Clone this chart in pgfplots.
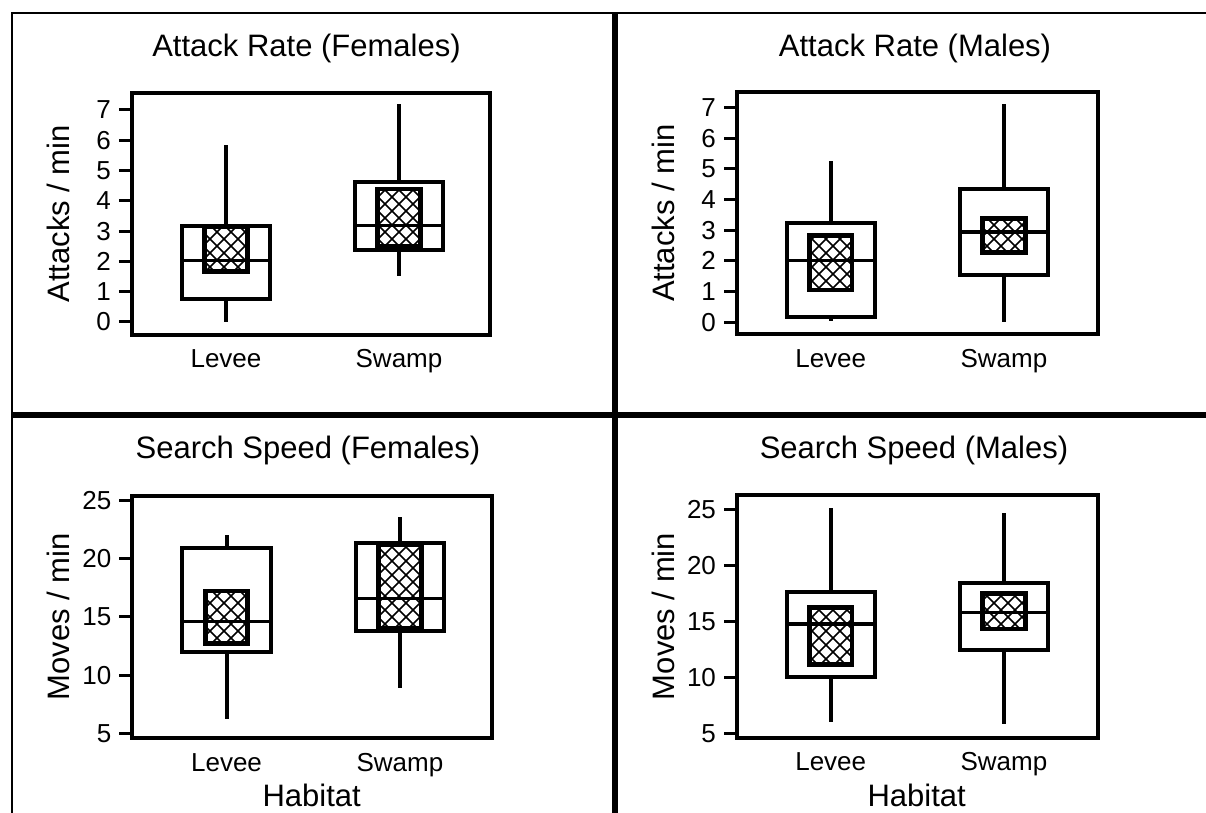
\documentclass[border=0pt]{standalone}
\usepackage{fontspec}
\setmainfont{Liberation Sans}
\usepackage{pgfplots}
\pgfplotsset{compat=1.18}
\usepgfplotslibrary{statistics}
\usetikzlibrary{patterns}

\pgfdeclarepatternformonly{xdiamond}{\pgfqpoint{-0.5pt}{-0.5pt}}{\pgfqpoint{7.5pt}{7.5pt}}{\pgfqpoint{7pt}{7pt}}{%
  \pgfsetlinewidth{0.8pt}%
  \pgfpathmoveto{\pgfqpoint{0pt}{0pt}}\pgfpathlineto{\pgfqpoint{7pt}{7pt}}%
  \pgfpathmoveto{\pgfqpoint{0pt}{7pt}}\pgfpathlineto{\pgfqpoint{7pt}{0pt}}%
  \pgfusepath{stroke}}

\pgfplotsset{
  panel/.style={
    scale only axis, anchor=south west,
    axis line style={line width=2pt},
    tick align=outside, major tick length=6.5pt, tick pos=left,
    ytick style={line width=1.5pt, black},
    xtick={1,2}, xticklabels={Levee,Swamp}, xtick style={draw=none},
    ticklabel style={font=\fontsize{13}{15}\selectfont},
    yticklabel style={xshift=-0.5pt},
    xticklabel style={anchor=base, yshift=-10pt},
    /pgf/number format/assume math mode=true,
    boxplot/draw direction=y,
    every axis y label/.style={at={([xshift=-37pt]axis description cs:0,0.5)}, rotate=90, anchor=center, font=\fontsize{15.5}{18}\selectfont},
  },
}

% pos, lower whisker, lower quartile, median, upper quartile, upper whisker, inner low, inner high
\newcommand{\panelbox}[8]{%
  \addplot[black, line width=2pt, boxplot prepared={draw position=#1, lower whisker=#2, lower quartile=#3, median=#4, upper quartile=#5, upper whisker=#6, box extend=0.51, whisker extend=0, every median/.style={line width=1.7pt}}] coordinates {};
  \addplot[black, line width=2.4pt, pattern=xdiamond, boxplot prepared={draw position=#1, lower whisker=#7, lower quartile=#7, median=#7, upper quartile=#8, upper whisker=#8, box extend=0.246, whisker extend=0}] coordinates {};
}

\begin{document}
\begin{tikzpicture}
\useasboundingbox (0pt,0pt) rectangle (603pt,406.5pt);

% frame and dividers
\draw[line width=1.2pt] (6pt,-10pt) -- (6pt,400pt) -- (620pt,400pt);
\draw[line width=3pt] (307.5pt,400pt) -- (307.5pt,-10pt);
\draw[line width=3pt] (6pt,199pt) -- (620pt,199pt);

% Attack Rate (Females)
\begin{axis}[panel, at={(66pt,239.15pt)}, width=179.25pt, height=120.85pt,
  xmin=0.4566, xmax=2.529, ymin=-0.42, ymax=7.56, ytick={0,1,...,7},
  ylabel={Attacks / min}]
\panelbox{1}{0}{0.75}{2.02}{3.18}{5.84}{1.66}{3.15}
\panelbox{2}{1.52}{2.38}{3.18}{4.61}{7.19}{2.49}{4.39}
\end{axis}

% Attack Rate (Males)
\begin{axis}[panel, at={(368.5pt,239.25pt)}, width=180.25pt, height=121.25pt,
  xmin=0.459, xmax=2.54, ymin=-0.40, ymax=7.51, ytick={0,1,...,7},
  ylabel={Attacks / min}]
\panelbox{1}{0.05}{0.18}{2.01}{3.23}{5.26}{1.05}{2.83}
\panelbox{2}{0.02}{1.54}{2.94}{4.34}{7.12}{2.27}{3.39}
\end{axis}

% Search Speed (Females)
\begin{axis}[panel, at={(66.15pt,37.35pt)}, width=179.7pt, height=121.3pt,
  xmin=0.4566, xmax=2.529, ymin=4.57, ymax=25.43, ytick={5,10,...,25},
  ylabel={Moves / min}]
\panelbox{1}{6.2}{11.96}{14.6}{20.9}{22.05}{12.74}{17.24}
\panelbox{2}{8.92}{13.82}{16.6}{21.34}{23.57}{14.03}{21.19}
\end{axis}

% Search Speed (Males)
\begin{axis}[panel, at={(368.5pt,37.5pt)}, width=180.25pt, height=121.5pt,
  xmin=0.459, xmax=2.54, ymin=4.64, ymax=26.27, ytick={5,10,...,25},
  ylabel={Moves / min}]
\panelbox{1}{6.1}{10.09}{14.79}{17.66}{25.09}{11.18}{16.28}
\panelbox{2}{5.89}{12.47}{15.83}{18.47}{24.7}{14.35}{17.52}
\end{axis}

% titles
\node[anchor=base, font=\fontsize{15.5}{18}\selectfont] at (153.25pt,378.15pt) {Attack Rate (Females)};
\node[anchor=base, font=\fontsize{15.5}{18}\selectfont] at (457.5pt,378.15pt) {Attack Rate (Males)};
\node[anchor=base, font=\fontsize{15.5}{18}\selectfont] at (154pt,177pt) {Search Speed (Females)};
\node[anchor=base, font=\fontsize{15.5}{18}\selectfont] at (457pt,177pt) {Search Speed (Males)};
\node[anchor=base, font=\fontsize{15.5}{18}\selectfont] at (155.85pt,3pt) {Habitat};
\node[anchor=base, font=\fontsize{15.5}{18}\selectfont] at (458.35pt,3pt) {Habitat};
\end{tikzpicture}
\end{document}
